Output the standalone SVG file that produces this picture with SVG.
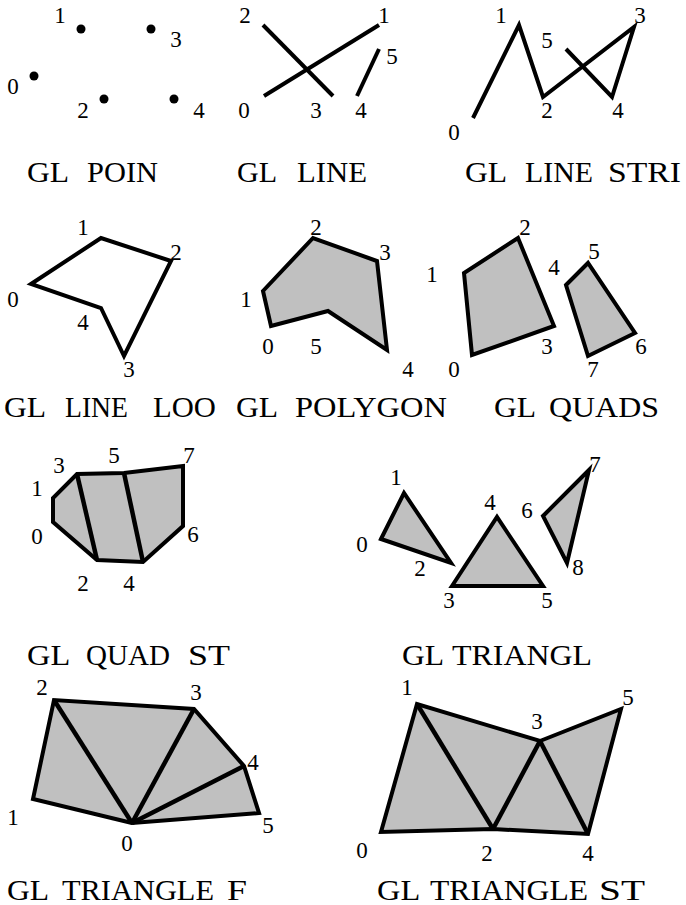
<svg xmlns="http://www.w3.org/2000/svg" width="686" height="905" viewBox="0 0 686 905">
<style>
.ln{fill:none;stroke:#000;stroke-width:4;stroke-linejoin:miter;stroke-linecap:butt}
.fl{fill:#c0c0c0;stroke:#000;stroke-width:4;stroke-linejoin:miter}
.in{fill:none;stroke:#000;stroke-width:4.5;stroke-linecap:butt}
.n{font-family:'Liberation Serif','Times New Roman',serif;font-size:23px;text-anchor:middle;fill:#000}
.cap{font-family:'Liberation Serif','Times New Roman',serif;font-size:29px;fill:#000}
</style>
<rect width="686" height="905" fill="#fff"/>

<g id="points">
<circle cx="34" cy="76" r="4.5"/><circle cx="81" cy="29" r="4.5"/><circle cx="104" cy="99" r="4.5"/><circle cx="151" cy="29" r="4.5"/><circle cx="174" cy="99" r="4.5"/>
<text class="n" x="60" y="23">1</text><text class="n" x="176" y="47">3</text><text class="n" x="13" y="94">0</text><text class="n" x="83" y="118">2</text><text class="n" x="199" y="118">4</text>
<text class="cap" y="182"><tspan x="27" textLength="41" lengthAdjust="spacingAndGlyphs">GL</tspan> <tspan x="87" textLength="71" lengthAdjust="spacingAndGlyphs">POIN</tspan></text>
</g>

<g id="lines">
<line class="ln" x1="263" y1="25" x2="333" y2="96"/><line class="ln" x1="264" y1="96" x2="379" y2="25"/><line class="ln" x1="357" y1="96" x2="379" y2="49"/>
<text class="n" x="245" y="23">2</text><text class="n" x="384" y="23">1</text><text class="n" x="392" y="64">5</text><text class="n" x="244" y="118">0</text><text class="n" x="316" y="118">3</text><text class="n" x="361" y="118">4</text>
<text class="cap" y="182"><tspan x="237" textLength="39" lengthAdjust="spacingAndGlyphs">GL</tspan> <tspan x="297" textLength="70" lengthAdjust="spacingAndGlyphs">LINE</tspan></text>
</g>

<g id="linestrip">
<polyline class="ln" points="473,118 519,25 543,97 634,27 612,97 566,49"/>
<text class="n" x="501" y="23">1</text><text class="n" x="640" y="23">3</text><text class="n" x="547" y="48">5</text><text class="n" x="547" y="118">2</text><text class="n" x="618" y="118">4</text><text class="n" x="454" y="140">0</text>
<text class="cap" y="182"><tspan x="465" textLength="41" lengthAdjust="spacingAndGlyphs">GL</tspan> <tspan x="525" textLength="68" lengthAdjust="spacingAndGlyphs">LINE</tspan> <tspan x="608" textLength="73" lengthAdjust="spacingAndGlyphs">STRI</tspan></text>
</g>

<g id="lineloop">
<polygon class="ln" points="31,284 101,238 171,261 124,356 101,308"/>
<text class="n" x="83" y="235">1</text><text class="n" x="176" y="260">2</text><text class="n" x="13" y="307">0</text><text class="n" x="83" y="330">4</text><text class="n" x="129" y="377">3</text>
<text class="cap" y="417"><tspan x="4" textLength="41" lengthAdjust="spacingAndGlyphs">GL</tspan> <tspan x="65" textLength="63" lengthAdjust="spacingAndGlyphs">LINE</tspan> <tspan x="153" textLength="63" lengthAdjust="spacingAndGlyphs">LOO</tspan></text>
</g>

<g id="polygon">
<polygon class="fl" points="271,326 263,291 313,238 377,261 387,350 328,311"/>
<text class="n" x="316" y="235">2</text><text class="n" x="385" y="260">3</text><text class="n" x="246" y="307">1</text><text class="n" x="268" y="354">0</text><text class="n" x="316" y="354">5</text><text class="n" x="408" y="377">4</text>
<text class="cap" y="417"><tspan x="236" textLength="41" lengthAdjust="spacingAndGlyphs">GL</tspan> <tspan x="295" textLength="152" lengthAdjust="spacingAndGlyphs">POLYGON</tspan></text>
</g>

<g id="quads">
<polygon class="fl" points="472,355 464,273 518,238 554,326"/>
<polygon class="fl" points="566,285 588,263 635,333 588,356"/>
<text class="n" x="432" y="282">1</text><text class="n" x="525" y="235">2</text><text class="n" x="554" y="275">4</text><text class="n" x="594" y="259">5</text><text class="n" x="547" y="354">3</text><text class="n" x="641" y="354">6</text><text class="n" x="454" y="377">0</text><text class="n" x="593" y="377">7</text>
<text class="cap" y="417"><tspan x="494" textLength="41" lengthAdjust="spacingAndGlyphs">GL</tspan> <tspan x="549" textLength="110" lengthAdjust="spacingAndGlyphs">QUADS</tspan></text>
</g>

<g id="quadstrip">
<polygon class="fl" points="53,522 53,498 77,474 124,473 183,466 183,526 143,562 97,560"/>
<line class="in" x1="77" y1="474" x2="97" y2="560"/><line class="in" x1="124" y1="473" x2="143" y2="562"/>
<text class="n" x="59" y="473">3</text><text class="n" x="114" y="463">5</text><text class="n" x="189" y="463">7</text><text class="n" x="37" y="496">1</text><text class="n" x="37" y="544">0</text><text class="n" x="193" y="542">6</text><text class="n" x="83" y="591">2</text><text class="n" x="129" y="591">4</text>
<text class="cap" y="665"><tspan x="27" textLength="42" lengthAdjust="spacingAndGlyphs">GL</tspan> <tspan x="86" textLength="84" lengthAdjust="spacingAndGlyphs">QUAD</tspan> <tspan x="188" textLength="42" lengthAdjust="spacingAndGlyphs">ST</tspan></text>
</g>

<g id="triangles">
<polygon class="fl" points="381,539 404,493 451,563"/>
<polygon class="fl" points="452,586 497,517 543,586"/>
<polygon class="fl" points="543,516 589,470 567,563"/>
<text class="n" x="396" y="485">1</text><text class="n" x="362" y="552">0</text><text class="n" x="420" y="576">2</text><text class="n" x="490" y="510">4</text><text class="n" x="527" y="518">6</text><text class="n" x="595" y="472">7</text><text class="n" x="578" y="575">8</text><text class="n" x="449" y="608">3</text><text class="n" x="547" y="608">5</text>
<text class="cap" y="665"><tspan x="402" textLength="41" lengthAdjust="spacingAndGlyphs">GL</tspan> <tspan x="452" textLength="140" lengthAdjust="spacingAndGlyphs">TRIANGL</tspan></text>
</g>

<g id="trianglefan">
<polygon class="fl" points="132,823 33,799 54,700 194,709 244,766 259,813"/>
<line class="in" x1="132" y1="823" x2="54" y2="700"/><line class="in" x1="132" y1="823" x2="194" y2="709"/><line class="in" x1="132" y1="823" x2="244" y2="766"/>
<text class="n" x="42" y="695">2</text><text class="n" x="196" y="700">3</text><text class="n" x="253" y="770">4</text><text class="n" x="13" y="825">1</text><text class="n" x="268" y="833">5</text><text class="n" x="127" y="851">0</text>
<text class="cap" y="900"><tspan x="7" textLength="41" lengthAdjust="spacingAndGlyphs">GL</tspan> <tspan x="62" textLength="152" lengthAdjust="spacingAndGlyphs">TRIANGLE</tspan> <tspan x="227" textLength="20" lengthAdjust="spacingAndGlyphs">F</tspan></text>
</g>

<g id="trianglestrip">
<polygon class="fl" points="381,832 417,704 540,741 621,709 588,834 493,829"/>
<line class="in" x1="417" y1="704" x2="493" y2="829"/><line class="in" x1="493" y1="829" x2="540" y2="741"/><line class="in" x1="540" y1="741" x2="588" y2="834"/>
<text class="n" x="407" y="695">1</text><text class="n" x="628" y="705">5</text><text class="n" x="537" y="729">3</text><text class="n" x="362" y="858">0</text><text class="n" x="487" y="861">2</text><text class="n" x="588" y="861">4</text>
<text class="cap" y="900"><tspan x="377" textLength="42" lengthAdjust="spacingAndGlyphs">GL</tspan> <tspan x="430" textLength="158" lengthAdjust="spacingAndGlyphs">TRIANGLE</tspan> <tspan x="599" textLength="46" lengthAdjust="spacingAndGlyphs">ST</tspan></text>
</g>
</svg>
